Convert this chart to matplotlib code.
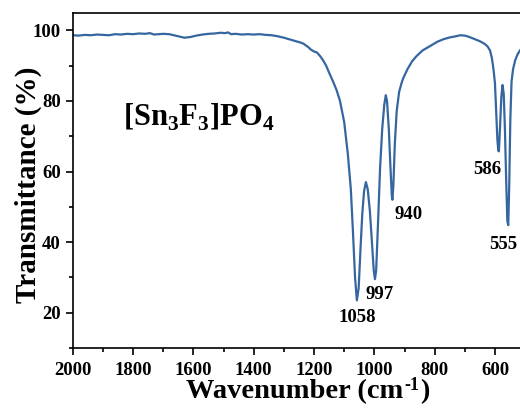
import numpy as np
import matplotlib
matplotlib.use('Agg')
import matplotlib.pyplot as plt
from matplotlib.ticker import MultipleLocator

# ── Data ──────────────────────────────────────────────────────────────────────
wavenumber = [
    2000, 1980, 1960, 1940, 1920, 1900, 1880, 1860, 1840, 1820, 1800, 1780,
    1760, 1745, 1730, 1715, 1700, 1680, 1665, 1650, 1630, 1610, 1590, 1570,
    1550, 1530, 1510, 1495, 1485, 1475, 1460, 1440, 1420, 1400, 1380, 1360,
    1340, 1320, 1300, 1280, 1260, 1247, 1235, 1220, 1210, 1200, 1190, 1180,
    1170, 1160, 1150, 1137, 1125, 1114, 1100, 1088, 1078, 1071, 1064, 1058,
    1052, 1046, 1040, 1034, 1028, 1022, 1015, 1008, 1002, 998, 994, 988,
    981, 974, 967, 962, 958, 952, 947, 942, 940, 937, 932, 926,
    918, 910, 904, 890, 875, 860, 840, 820, 806, 790, 770, 749,
    730, 715, 700, 685, 670, 650, 635, 625, 616, 610, 605, 600,
    596, 592, 589, 587, 583, 579, 575, 571, 567, 563, 559, 556,
    553, 549, 545, 540, 533, 525, 517,
]
transmittance = [
    98.6, 98.5, 98.7, 98.6, 98.8, 98.7, 98.6, 98.9, 98.8, 99.0, 98.9, 99.1,
    99.0, 99.2, 98.8, 98.9, 99.0, 98.9, 98.6, 98.3, 97.9, 98.1, 98.5, 98.8,
    99.0, 99.1, 99.3, 99.2, 99.4, 98.9, 99.0, 98.8, 98.9, 98.8, 98.9, 98.7,
    98.6, 98.3, 97.9, 97.4, 96.9, 96.6, 96.2, 95.3, 94.5, 94.0, 93.7, 92.7,
    91.5, 90.0, 88.0, 85.5, 83.0, 80.0, 74.0, 65.0, 55.0, 43.0, 30.0, 23.5,
    27.0, 38.0, 48.0, 54.5, 57.0, 55.0, 49.0, 40.0, 32.0, 29.5, 32.0, 45.0,
    61.0, 72.0, 79.0, 81.6, 80.0, 72.0, 62.0, 53.0, 52.0, 56.0, 68.0, 77.0,
    82.5, 85.0, 86.5, 89.0, 91.2, 92.7, 94.3, 95.3, 96.0, 96.8, 97.5, 98.0,
    98.3, 98.6, 98.5, 98.1, 97.6, 96.9, 96.2, 95.5, 94.2, 92.0, 89.0, 85.0,
    77.0, 69.0, 66.0, 65.7, 73.0, 81.0, 84.5, 82.0, 72.0, 58.0, 46.0, 44.8,
    55.0, 75.0, 85.5, 89.0, 91.5, 93.2, 94.3,
]

peak_labels = ["1058", "997", "940", "586", "555"]
peak_x      = [1058, 981, 887, 625, 571]
peak_y      = [18.6, 25.1, 47.7, 60.5, 39.3]

plt.rcParams['font.family'] = ['Liberation Serif', 'DejaVu Serif']
plt.rcParams['font.weight'] = 'bold'
plt.rcParams['mathtext.fontset'] = 'custom'
plt.rcParams['mathtext.rm'] = 'Liberation Serif:bold'
plt.rcParams['mathtext.bf'] = 'Liberation Serif:bold'

W, H = 520, 408
fig = plt.figure(figsize=(W / 100, H / 100), dpi=100)
ax = fig.add_axes([0.140, 0.147, 0.860, 0.822])

ax.plot(wavenumber, transmittance, color='#3566a0', lw=1.6)

ax.set_xlim(2000, 517)
ax.set_ylim(10, 105)
ax.xaxis.set_major_locator(MultipleLocator(200))
ax.xaxis.set_minor_locator(MultipleLocator(100))
ax.yaxis.set_major_locator(MultipleLocator(20))
ax.yaxis.set_minor_locator(MultipleLocator(10))
ax.tick_params(which='both', direction='out', top=False, right=False,
               width=1.2, labelsize=13.5)
ax.tick_params(which='major', length=5)
ax.tick_params(which='minor', length=3)
ax.tick_params(axis='x', pad=5)
for s in ax.spines.values():
    s.set_linewidth(1.2)
ax.spines['right'].set_visible(False)

# x title built in pieces so the superscript sits like the original
r = fig.canvas.get_renderer()
base_y = 10 / H
t1 = fig.text(186 / W, base_y, 'Wavenumber (cm', fontsize=20.5, fontweight='bold',
              ha='left', va='baseline')
bb = t1.get_window_extent(renderer=r)
t2 = fig.text((bb.x1 + 1) / W, 18 / H, '-1', fontsize=13, fontweight='bold',
              ha='left', va='baseline')
bb2 = t2.get_window_extent(renderer=r)
fig.text((bb2.x1 + 1) / W, base_y, ')', fontsize=20.5, fontweight='bold',
         ha='left', va='baseline')

fig.text(0.055, 0.547, 'Transmittance (%)', fontsize=21, fontweight='bold',
         ha='center', va='center', rotation=90)

ax.text(1834, 75.4, r'[Sn$_3$F$_3$]PO$_4$', fontsize=22, fontweight='bold',
        ha='left', va='center')

for lbl, x, y in zip(peak_labels, peak_x, peak_y):
    ax.text(x, y, lbl, fontsize=13.5, fontweight='bold', ha='center', va='center')

fig.savefig('out.png', dpi=100)
